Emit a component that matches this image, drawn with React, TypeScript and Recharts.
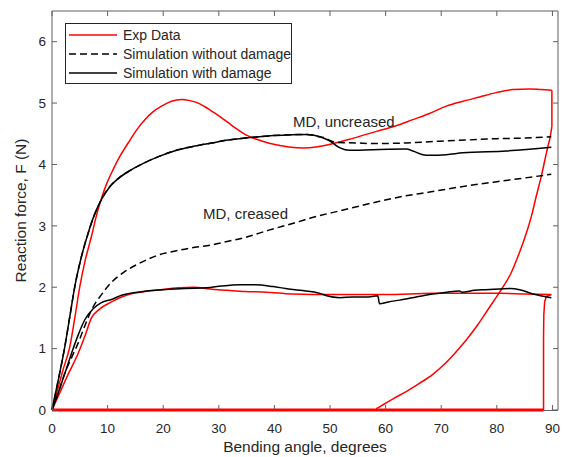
import React from 'react'
import { LineChart, Line, XAxis, YAxis } from 'recharts'

type Pt = [number, number]

const FONT = '"Liberation Sans", Arial, Helvetica, sans-serif'
const RED = '#ff0000'
const BLACK = '#000000'
const AXIS = '#5f5f5f'
const TEXT = '#262626'
const DASH = '7 4'

const xTicks = [0, 10, 20, 30, 40, 50, 60, 70, 80, 90]
const yTicks = [0, 1, 2, 3, 4, 5, 6]

const legendItems = ['Exp Data', 'Simulation without damage', 'Simulation with damage']

// Exp data, uncreased
const expUncreasedLoading: Pt[] = [
    [0, 0], [1, 0.33], [2, 0.66], [3.2, 1.03], [4.1, 1.5], [5, 2.01], [6, 2.45], [7.1, 2.83],
    [8, 3.17], [8.9, 3.45], [9.8, 3.68], [10.7, 3.86], [12.2, 4.13], [13.7, 4.35], [15.2, 4.56],
    [16.7, 4.73], [18.2, 4.86], [19.7, 4.95], [21.5, 5.03], [23.3, 5.06], [24.8, 5.04], [26.3, 5.0],
    [27.5, 4.94], [28.7, 4.87], [30.2, 4.78], [31.7, 4.68], [33.2, 4.58], [34.7, 4.49], [36.8, 4.41],
    [38.9, 4.35], [41, 4.31], [43, 4.28], [45.2, 4.27], [47.8, 4.29], [50.5, 4.34], [53.5, 4.41],
    [56.5, 4.49], [59.2, 4.56], [61.9, 4.63], [64.9, 4.73], [67.9, 4.83], [70.9, 4.95], [73.9, 5.03],
    [76.9, 5.1], [79.9, 5.17], [82.9, 5.22], [85.9, 5.23], [88, 5.22], [89.9, 5.21],
]
const expUncreasedDrop: Pt[] = [[89.9, 5.21], [89.9, 4.62]]
const expUncreasedUnloading: Pt[] = [
    [89.9, 4.62], [89.6, 4.45], [89.2, 4.3], [88.9, 4.18], [88, 3.81], [87, 3.45], [86.2, 3.15],
    [85.3, 2.88], [84, 2.55], [82.5, 2.22], [80.5, 1.92], [78.5, 1.65], [76.5, 1.38], [74.5, 1.14],
    [72.5, 0.93], [70.5, 0.74], [68.5, 0.58], [66, 0.43], [63.7, 0.3], [61.5, 0.19], [60, 0.11],
    [58.3, 0.02],
]

// Exp data, creased
const expCreasedLoading: Pt[] = [
    [0, 0], [1.5, 0.3], [3, 0.6], [4.7, 0.92], [5.9, 1.2], [7.1, 1.5], [8.5, 1.64], [10.7, 1.76],
    [12.5, 1.84], [14.6, 1.9], [16.7, 1.93], [19.5, 1.96], [22.7, 1.99], [25.5, 2.0], [28.4, 1.97],
    [31.5, 1.95], [34.7, 1.93], [38.6, 1.92], [43.1, 1.89], [50.5, 1.88], [60, 1.88], [68.5, 1.9],
    [75, 1.9], [80.5, 1.9], [85, 1.89], [89.8, 1.88],
]
const expCreasedUnloading: Pt[] = [
    [89.8, 1.88], [88.9, 1.85], [88.6, 1.76], [88.45, 1.55], [88.4, 1.2], [88.4, 0],
]
const expCreasedReturn: Pt[] = [[88.4, 0], [0, 0]]

// shared start of both uncreased simulations
const simUncreasedStart: Pt[] = [
    [0, 0], [1.2, 0.52], [2.3, 1.03], [3.2, 1.52], [4.1, 2.01], [5.3, 2.5], [6.5, 2.88], [7.5, 3.15],
    [8.9, 3.43], [10.5, 3.65], [11.9, 3.77], [14, 3.9], [16.7, 4.03], [19.5, 4.14], [22.7, 4.24],
    [25.7, 4.3], [28.7, 4.35], [31.7, 4.4], [34.7, 4.43], [39.8, 4.47], [45.8, 4.49], [48.2, 4.45],
]
const simDamageUncreasedEnd: Pt[] = [
    [50, 4.38], [51.8, 4.27], [53.5, 4.23], [57.7, 4.24], [63.7, 4.25], [64.9, 4.22], [66.7, 4.16],
    [67.9, 4.15], [70.9, 4.16], [73.9, 4.19], [81.7, 4.22], [89.8, 4.28],
]
const simNoDamageUncreasedEnd: Pt[] = [
    [49.2, 4.43], [50, 4.39], [51, 4.36], [54.8, 4.35], [57.7, 4.34], [63.7, 4.35], [69.7, 4.38],
    [75, 4.4], [80, 4.42], [85, 4.43], [89.8, 4.45],
]

const simDamageCreased: Pt[] = [
    [0, 0], [1.2, 0.3], [2.4, 0.62], [3.5, 0.92], [4.7, 1.22], [5.9, 1.47], [7.4, 1.65], [8.9, 1.75],
    [10.7, 1.8], [12.5, 1.87], [14.6, 1.91], [17, 1.94], [20, 1.96], [23.9, 1.98], [27.8, 1.99],
    [30.5, 2.02], [33.8, 2.04], [36.5, 2.04], [39.8, 2.01], [42, 1.98], [44.6, 1.95], [48.2, 1.9],
    [49.4, 1.86], [51.8, 1.83], [54, 1.84], [56.5, 1.84], [58.6, 1.86], [58.9, 1.73], [60.5, 1.76],
    [62.5, 1.79], [65.5, 1.84], [68.5, 1.89], [71, 1.92], [73.3, 1.94], [73.7, 1.92], [76, 1.95],
    [78, 1.96], [80.5, 1.97], [82.5, 1.98], [84.1, 1.96], [86.5, 1.89], [89.8, 1.83],
]
const simNoDamageCreased: Pt[] = [
    [0, 0], [1.2, 0.3], [2.3, 0.6], [3.5, 0.85], [4.7, 1.09], [5.9, 1.37], [7.1, 1.63], [8.9, 1.88],
    [10.7, 2.08], [13, 2.25], [15.5, 2.38], [19, 2.52], [22.7, 2.6], [25.7, 2.65], [28.7, 2.69],
    [31.7, 2.75], [34.7, 2.81], [39, 2.93], [43.7, 3.05], [47, 3.14], [52, 3.25], [58.9, 3.4],
    [62.5, 3.47], [67.9, 3.55], [74.5, 3.65], [80, 3.72], [85, 3.78], [89.8, 3.84],
]

const toRows = (pts: Pt[]) => pts.map(([x, y]) => ({ x, y }))

const series = [
    { key: 'expCR', pts: expCreasedReturn, color: RED, curve: 'linear', width: 3 },
    { key: 'expUL', pts: expUncreasedLoading, color: RED, curve: 'monotone' },
    { key: 'expUD', pts: expUncreasedDrop, color: RED, curve: 'linear' },
    { key: 'expUU', pts: expUncreasedUnloading, color: RED, curve: 'monotone' },
    { key: 'expCL', pts: expCreasedLoading, color: RED, curve: 'monotone' },
    { key: 'expCU', pts: expCreasedUnloading, color: RED, curve: 'linear' },
    { key: 'noDmgU', pts: [...simUncreasedStart, ...simNoDamageUncreasedEnd], color: BLACK, dash: DASH, curve: 'monotone' },
    { key: 'noDmgC', pts: simNoDamageCreased, color: BLACK, dash: DASH, curve: 'monotone' },
    { key: 'dmgU', pts: [...simUncreasedStart, ...simDamageUncreasedEnd], color: BLACK, curve: 'monotone' },
    { key: 'dmgC', pts: simDamageCreased, color: BLACK, curve: 'monotone' },
]

const tickStyle = { fill: TEXT, fontSize: 13.5, fontFamily: FONT }
const lineStyle = { stroke: AXIS, strokeWidth: 1 }
const blank = () => ''

const Legend = () => {
    const samples = [
        { color: RED, dash: undefined },
        { color: BLACK, dash: DASH },
        { color: BLACK, dash: undefined },
    ]
    return (
        <div
            style={{
                position: 'absolute', left: 65, top: 23, width: 227, height: 61,
                border: '1px solid #262626', background: '#fff', boxSizing: 'border-box',
                fontFamily: FONT, fontSize: 14, color: TEXT,
            }}
        >
            {legendItems.map((name, i) => (
                <div key={name} style={{ position: 'absolute', left: 0, top: 10.8 + 19.2 * i - 9, height: 18, display: 'flex', alignItems: 'center', whiteSpace: 'nowrap' }}>
                    <svg width={54} height={4} style={{ marginLeft: 3 }}>
                        <line x1={0} y1={2} x2={48} y2={2} stroke={samples[i].color} strokeWidth={1.5} strokeDasharray={samples[i].dash} />
                    </svg>
                    <span>{name}</span>
                </div>
            ))}
        </div>
    )
}

const note = (text: string, left: number, top: number) => (
    <div style={{ position: 'absolute', left, top, fontFamily: FONT, fontSize: 15, lineHeight: 1, color: TEXT, whiteSpace: 'nowrap' }}>
        {text}
    </div>
)

export default function App() {
    return (
        <div style={{ position: 'absolute', left: 0, top: 0, width: 568, height: 457, background: '#fff' }}>
            {/* bottom frame edge sits under the svg so the red zero line covers it */}
            <div style={{ position: 'absolute', left: 52, top: 409.5, width: 506, height: 1, background: AXIS }} />
            <LineChart width={568} height={457} margin={{ top: 10, right: 9, bottom: 0, left: 0 }}>
                <XAxis
                    dataKey="x" type="number" domain={[0, 91]} ticks={xTicks}
                    height={47} tickSize={-5} tickMargin={18} tick={tickStyle}
                    axisLine={false} tickLine={lineStyle}
                    label={{ value: 'Bending angle, degrees', position: 'insideBottom', offset: 5, fill: TEXT, fontSize: 15.5, fontFamily: FONT }}
                />
                <XAxis
                    xAxisId="top" orientation="top" dataKey="x" type="number" domain={[0, 91]} ticks={xTicks}
                    allowDataOverflow height={1} tickSize={-5} tickFormatter={blank}
                    axisLine={lineStyle} tickLine={lineStyle}
                />
                <YAxis
                    type="number" domain={[0, 6.5]} ticks={yTicks} width={52}
                    tickSize={-5} tickMargin={11} tick={tickStyle}
                    axisLine={lineStyle} tickLine={lineStyle}
                    label={{ value: 'Reaction force, F (N)', angle: -90, position: 'center', dx: -6, fill: TEXT, fontSize: 15.5, fontFamily: FONT }}
                />
                <YAxis
                    yAxisId="right" orientation="right" type="number" domain={[0, 6.5]} ticks={yTicks}
                    allowDataOverflow width={1} tickSize={-5} tickFormatter={blank}
                    axisLine={lineStyle} tickLine={lineStyle}
                />
                {series.map(s => (
                    <Line
                        key={s.key}
                        data={toRows(s.pts)}
                        dataKey="y"
                        type={s.curve as 'monotone' | 'linear'}
                        stroke={s.color}
                        strokeWidth={s.width ?? 1.5}
                        strokeDasharray={s.dash}
                        dot={false}
                        activeDot={false}
                        isAnimationActive={false}
                    />
                ))}
            </LineChart>
            <Legend />
            {note('MD, uncreased', 293, 114)}
            {note('MD, creased', 203, 206)}
        </div>
    )
}
